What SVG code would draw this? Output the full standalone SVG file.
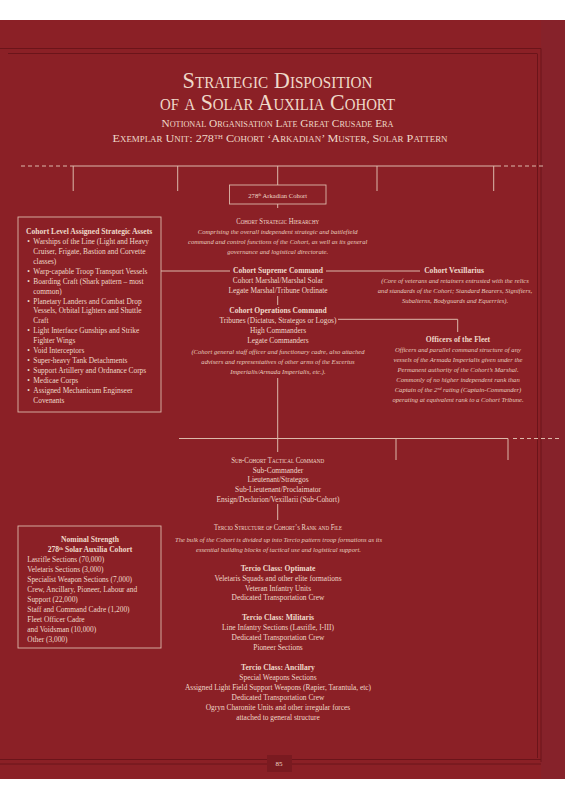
<svg xmlns="http://www.w3.org/2000/svg" width="565" height="800" viewBox="0 0 565 800">
<style>
text{font-family:"Liberation Serif","Times New Roman",serif;fill:#efd9c9;text-anchor:middle}
.t{font-size:7.4px}
.i{font-size:6.6px;font-style:italic;fill:#e8cdbf}
.b{font-size:7.6px;font-weight:bold}
.sc{font-size:8px;font-variant:small-caps}
.l{text-anchor:start}
.ln{stroke:#dcb8aa;stroke-width:1;fill:none}
.ds{stroke:#dcb8aa;stroke-width:1;fill:none;stroke-dasharray:4 3}
.fr{stroke:#6b141a;stroke-width:1;fill:none}
.box{stroke:#dcb8aa;stroke-width:0.9;fill:none}
</style>
<rect x="0" y="0" width="565" height="800" fill="#ffffff"/>
<rect x="0" y="20" width="565" height="759" fill="#8b2026"/>
<rect x="541" y="20" width="24" height="759" fill="#86222a"/>
<g id="frame">
<path class="fr" d="M0 48.5H541M8 53.5H537M537.5 53.5V758M541 48.5V762M0 759.5H541M0 764H541"/>
<rect x="267" y="755" width="25" height="17" fill="#7a1a20"/>
</g>
<g id="title">
<text x="277.5" y="88" font-size="23.5" font-variant="small-caps" textLength="190" lengthAdjust="spacingAndGlyphs">Strategic Disposition</text>
<text x="277.5" y="110" font-size="23.5" font-variant="small-caps" textLength="235" lengthAdjust="spacingAndGlyphs">of a Solar Auxilia Cohort</text>
<text x="277.5" y="126.5" font-size="11" font-variant="small-caps" textLength="232" lengthAdjust="spacingAndGlyphs">Notional Organisation Late Great Crusade Era</text>
<text x="280" y="141.5" font-size="11" font-variant="small-caps" textLength="335" lengthAdjust="spacingAndGlyphs">Exemplar Unit: 278<tspan font-size="6" baseline-shift="super">TH</tspan> Cohort ‘Arkadian’ Muster, Solar Pattern</text>
</g>
<g id="connectors">
<path class="ds" d="M21 166H70M497 166H546"/>
<path class="ln" d="M70 166H497M73.2 166V191M177.7 166V191M377 166V191M493.7 166V191M277.7 166V185"/>
<path class="ln" d="M277.7 204V208M277.7 296V305M277.7 378V452M277.7 504V520"/>
<path class="ln" d="M161 271H230M326 271H420"/>
<path class="ln" d="M338 319.3H457.7V332"/>
<path class="ln" d="M179 438.5H508M396 438.5V460M508 438.5V460"/>
<path class="ds" d="M513 438.5H562"/>
</g>
<g id="cohort">
<rect class="box" x="229.5" y="185" width="96.5" height="19"/>
<text x="277.7" y="197.5" font-size="6.6">278<tspan font-size="4" baseline-shift="super">th</tspan> Arkadian Cohort</text>
</g>
<g id="strategic-assets">
<rect class="box" x="18" y="217" width="143" height="195"/>
<text class="b l" x="26" y="234.2">Cohort Level Assigned Strategic Assets</text>
<g class="t">
<text class="t l" x="27.3" y="244.1">•</text><text class="t l" x="33.3" y="244.1">Warships of the Line (Light and Heavy</text>
<text class="t l" x="33.3" y="254">Cruiser, Frigate, Bastion and Corvette</text>
<text class="t l" x="33.3" y="263.9">classes)</text>
<text class="t l" x="27.3" y="273.8">•</text><text class="t l" x="33.3" y="273.8">Warp-capable Troop Transport Vessels</text>
<text class="t l" x="27.3" y="283.7">•</text><text class="t l" x="33.3" y="283.7">Boarding Craft (Shark pattern – most</text>
<text class="t l" x="33.3" y="293.6">common)</text>
<text class="t l" x="27.3" y="303.5">•</text><text class="t l" x="33.3" y="303.5">Planetary Landers and Combat Drop</text>
<text class="t l" x="33.3" y="313.4">Vessels, Orbital Lighters and Shuttle</text>
<text class="t l" x="33.3" y="323.3">Craft</text>
<text class="t l" x="27.3" y="333.2">•</text><text class="t l" x="33.3" y="333.2">Light Interface Gunships and Strike</text>
<text class="t l" x="33.3" y="343.1">Fighter Wings</text>
<text class="t l" x="27.3" y="353">•</text><text class="t l" x="33.3" y="353">Void Interceptors</text>
<text class="t l" x="27.3" y="362.9">•</text><text class="t l" x="33.3" y="362.9">Super-heavy Tank Detachments</text>
<text class="t l" x="27.3" y="372.8">•</text><text class="t l" x="33.3" y="372.8">Support Artillery and Ordnance Corps</text>
<text class="t l" x="27.3" y="382.7">•</text><text class="t l" x="33.3" y="382.7">Medicae Corps</text>
<text class="t l" x="27.3" y="392.6">•</text><text class="t l" x="33.3" y="392.6">Assigned Mechanicum Enginseer</text>
<text class="t l" x="33.3" y="402.5">Covenants</text>
</g>
</g>
<g id="strategic-hierarchy">
<text class="sc" x="277.7" y="223.5" textLength="83" lengthAdjust="spacingAndGlyphs">Cohort Strategic Hierarchy</text>
<text class="i" x="277.7" y="234">Comprising the overall independent strategic and battlefield</text>
<text class="i" x="277.7" y="244">command and control functions of the Cohort, as well as its general</text>
<text class="i" x="277.7" y="254">governance and logistical directorate.</text>
</g>
<g id="supreme-command">
<text class="b" x="278" y="273.3">Cohort Supreme Command</text>
<text class="t" x="278" y="283.2">Cohort Marshal/Marshal Solar</text>
<text class="t" x="278" y="292.7">Legate Marshal/Tribune Ordinate</text>
</g>
<g id="vexillarius">
<text class="b" x="454" y="272.5">Cohort Vexillarius</text>
<text class="i" x="455" y="282.5">(Core of veterans and retainers entrusted with the relics</text>
<text class="i" x="455" y="292.5">and standards of the Cohort; Standard Bearers, Signifiers,</text>
<text class="i" x="455" y="302.5">Subalterns, Bodyguards and Equerries).</text>
</g>
<g id="operations-command">
<text class="b" x="278" y="312.5">Cohort Operations Command</text>
<text class="t" x="278" y="322.5">Tribunes (Dictatus, Strategos or Logos)</text>
<text class="t" x="278" y="332.5">High Commanders</text>
<text class="t" x="278" y="342.5">Legate Commanders</text>
<text class="i" x="278" y="353.5">(Cohort general staff officer and functionary cadre, also attached</text>
<text class="i" x="278" y="363.5">advisers and representatives of other arms of the Excertus</text>
<text class="i" x="278" y="373.5">Imperialis/Armada Imperialis, etc.).</text>
</g>
<g id="officers-fleet">
<text class="b" x="458" y="342">Officers of the Fleet</text>
<text class="i" x="458" y="352">Officers and parallel command structure of any</text>
<text class="i" x="458" y="362">vessels of the Armada Imperialis given under the</text>
<text class="i" x="458" y="372">Permanent authority of the Cohort’s Marshal.</text>
<text class="i" x="458" y="382">Commonly of no higher independent rank than</text>
<text class="i" x="458" y="392">Captain of the 2<tspan font-size="4" baseline-shift="super">nd</tspan> rating (Captain-Commander)</text>
<text class="i" x="458" y="402">operating at equivalent rank to a Cohort Tribune.</text>
</g>
<g id="sub-cohort">
<text class="sc" x="277.7" y="462.5" textLength="93" lengthAdjust="spacingAndGlyphs">Sub-Cohort Tactical Command</text>
<text class="t" x="278" y="472.5">Sub-Commander</text>
<text class="t" x="278" y="482">Lieutenant/Strategos</text>
<text class="t" x="278" y="491.5">Sub-Lieutenant/Proclaimator</text>
<text class="t" x="278" y="501.5">Ensign/Declurion/Vexillarii (Sub-Cohort)</text>
</g>
<g id="nominal-strength">
<rect class="box" x="18" y="526" width="143" height="122"/>
<text class="b" x="90" y="541.5">Nominal Strength</text>
<text class="b" x="90" y="551.5">278<tspan font-size="4.5" baseline-shift="super">th</tspan> Solar Auxilia Cohort</text>
<text class="t l" x="27.3" y="561.5">Lasrifle Sections (70,000)</text>
<text class="t l" x="27.3" y="571.5">Veletaris Sections (3,000)</text>
<text class="t l" x="27.3" y="581.5">Specialist Weapon Sections (7,000)</text>
<text class="t l" x="27.3" y="591.5">Crew, Ancillary, Pioneer, Labour and</text>
<text class="t l" x="27.3" y="601.5">Support (22,000)</text>
<text class="t l" x="27.3" y="611.5">Staff and Command Cadre (1,200)</text>
<text class="t l" x="27.3" y="621.5">Fleet Officer Cadre</text>
<text class="t l" x="27.3" y="631.5">and Voidsman (10,000)</text>
<text class="t l" x="27.3" y="641.5">Other (3,000)</text>
</g>
<g id="tercio-structure">
<text class="sc" x="278" y="530" textLength="128" lengthAdjust="spacingAndGlyphs">Tercio Structure of Cohort’s Rank and File</text>
<text class="i" x="278.5" y="541.5">The bulk of the Cohort is divided up into Tercio pattern troop formations as its</text>
<text class="i" x="278.5" y="551.5">essential building blocks of tactical use and logistical support.</text>
</g>
<g id="tercio-optimate">
<text class="b" x="278" y="571">Tercio Class: Optimate</text>
<text class="t" x="278" y="581">Veletaris Squads and other elite formations</text>
<text class="t" x="278" y="591">Veteran Infantry Units</text>
<text class="t" x="278" y="600">Dedicated Transportation Crew</text>
</g>
<g id="tercio-militaris">
<text class="b" x="278" y="620">Tercio Class: Militaris</text>
<text class="t" x="278" y="630">Line Infantry Sections (Lasrifle, I-III)</text>
<text class="t" x="278" y="640">Dedicated Transportation Crew</text>
<text class="t" x="278" y="650">Pioneer Sections</text>
</g>
<g id="tercio-ancillary">
<text class="b" x="278" y="670">Tercio Class: Ancillary</text>
<text class="t" x="278" y="680">Special Weapons Sections</text>
<text class="t" x="278" y="690">Assigned Light Field Support Weapons (Rapier, Tarantula, etc)</text>
<text class="t" x="278" y="700">Dedicated Transportation Crew</text>
<text class="t" x="278" y="710">Ogryn Charonite Units and other irregular forces</text>
<text class="t" x="278" y="720">attached to general structure</text>
</g>
<g id="page-number">
<text x="279" y="765.5" font-size="7">85</text>
</g>
</svg>
